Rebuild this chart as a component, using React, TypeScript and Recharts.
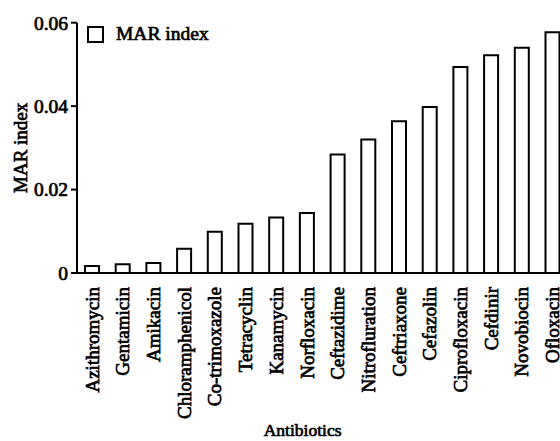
import React from 'react';
import { BarChart, Bar, XAxis, YAxis } from 'recharts';

const categories = [
  'Azithromycin', 'Gentamicin', 'Amikacin', 'Chloramphenicol', 'Co-trimoxazole',
  'Tetracyclin', 'Kanamycin', 'Norfloxacin', 'Ceftazidime', 'Nitrofluration',
  'Ceftriaxone', 'Cefazolin', 'Ciprofloxacin', 'Cefdinir', 'Novobiocin', 'Ofloxacin',
];
const marIndex = [
  0.0017, 0.0021, 0.0024, 0.0058, 0.0099, 0.0118, 0.0133, 0.0144,
  0.0284, 0.032, 0.0364, 0.0398, 0.0494, 0.0522, 0.054, 0.0577,
];
const yTicks = [0, 0.02, 0.04, 0.06];
const yTickLabels = ['0', '0.02', '0.04', '0.06'];

const data = categories.map((name, i) => ({ name, mar: marIndex[i] }));

const FONT = 'Liberation Serif';
const heavy = { fontFamily: FONT, fontWeight: 'normal' as const, stroke: '#000', strokeWidth: 0.7 };

const XTick = (props: any) => {
  const { x, y, payload } = props;
  return (
    <g transform={`translate(${x},${y})`}>
      <text
        transform="rotate(-90)"
        x={-6}
        y={0}
        dy="0.33em"
        textAnchor="end"
        style={{ ...heavy, fontSize: 19 }}
        fill="#000"
      >
        {payload.value}
      </text>
    </g>
  );
};

const YTick = (props: any) => {
  const { x, y, payload } = props;
  return (
    <text
      x={x}
      y={y}
      dy="0.35em"
      textAnchor="end"
      style={{ ...heavy, fontSize: 19.5 }}
      fill="#000"
    >
      {yTickLabels[yTicks.indexOf(payload.value)] ?? String(payload.value)}
    </text>
  );
};

export default function App() {
  return (
    <div style={{ position: 'absolute', left: 0, top: 0, width: 560, height: 441, overflow: 'hidden', background: '#fff' }}>
      <BarChart
        width={580}
        height={441}
        data={data}
        margin={{ top: 22.7, right: 11.8, left: 0, bottom: 0 }}
        barCategoryGap={0}
      >
        <XAxis
          dataKey="name"
          interval={0}
          tick={<XTick />}
          tickLine={false}
          axisLine={{ stroke: '#000', strokeWidth: 2 }}
          height={168}
          label={{
            value: 'Antibiotics',
            position: 'insideBottom',
            offset: 5,
            dx: -20,
            style: { ...heavy, fontSize: 17.5 },
            fill: '#000',
          }}
        />
        <YAxis
          width={77}
          domain={[0, 0.06]}
          ticks={yTicks}
          tickSize={6}
          tickMargin={3}
          tickLine={{ stroke: '#000', strokeWidth: 2 }}
          axisLine={{ stroke: '#000', strokeWidth: 2 }}
          tick={<YTick />}
          label={{
            value: 'MAR index',
            angle: -90,
            position: 'center',
            dx: -18,
            style: { ...heavy, fontSize: 19 },
            fill: '#000',
          }}
        />
        <Bar
          dataKey="mar"
          name="MAR index"
          fill="#fff"
          stroke="#000"
          strokeWidth={2}
          barSize={14}
          isAnimationActive={false}
        />
      </BarChart>
      <div
        style={{
          position: 'absolute',
          left: 87,
          top: 23,
          display: 'flex',
          alignItems: 'center',
          fontFamily: FONT,
          fontSize: 19.5,
          color: '#000',
          lineHeight: '22px',
          WebkitTextStroke: '0.7px #000',
        }}
      >
        <span style={{ display: 'inline-block', width: 13, height: 13, border: '2px solid #000', marginRight: 12 }} />
        <span>MAR index</span>
      </div>
    </div>
  );
}
